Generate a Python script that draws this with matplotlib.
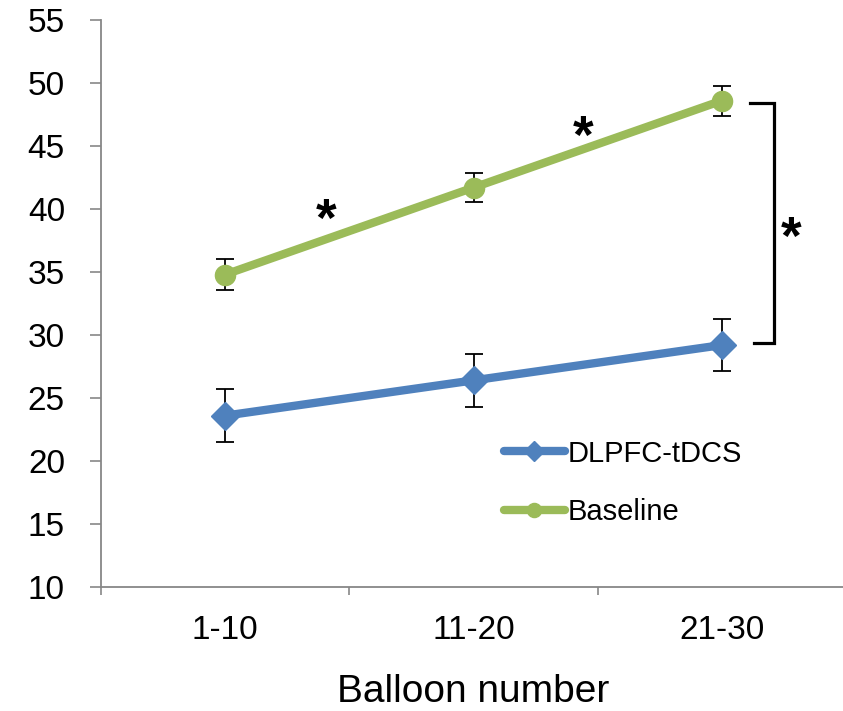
import matplotlib
matplotlib.use("Agg")
import matplotlib.pyplot as plt
import numpy as np

plt.rcParams['font.family'] = ['Liberation Sans', 'DejaVu Sans']

categories = ["1-10", "11-20", "21-30"]
tdcs = [23.6, 26.4, 29.2]
tdcs_err = [2.1, 2.1, 2.05]
baseline = [34.8, 41.7, 48.6]
baseline_err = [1.2, 1.15, 1.2]
yticks = [10, 15, 20, 25, 30, 35, 40, 45, 50, 55]

blue = "#4F81BD"
green = "#9BBB59"
axis_gray = "#878787"

W, H = 843, 711
fig = plt.figure(figsize=(W / 100, H / 100), dpi=100)
ax = fig.add_axes([101 / W, (H - 587) / H, 745 / W, 567 / H])

x = np.arange(len(categories))

ax.errorbar(x, tdcs, yerr=tdcs_err, fmt='none', ecolor='black', elinewidth=1.3,
            capsize=6.2, capthick=1.3, zorder=2)
ax.errorbar(x, baseline, yerr=baseline_err, fmt='none', ecolor='black', elinewidth=1.3,
            capsize=6.2, capthick=1.3, zorder=2)
l1, = ax.plot(x, tdcs, color=blue, lw=6, marker='D', markersize=14, label="DLPFC-tDCS",
              zorder=3, solid_capstyle='round')
l2, = ax.plot(x, baseline, color=green, lw=6, marker='o', markersize=14.5, label="Baseline",
              zorder=3, solid_capstyle='round')

ax.set_xlim(-0.5, 2.5)
ax.set_ylim(10, 55)
ax.set_yticks(yticks)
ax.set_xticks(x)
ax.set_xticklabels(categories)
ax.set_xticks([-0.5, 0.5, 1.5, 2.5], minor=True)
ax.tick_params(axis='x', which='major', length=0, pad=20, labelsize=24)
ax.tick_params(axis='x', which='minor', length=6, width=1.2, color=axis_gray, direction='out')
ax.tick_params(axis='y', length=8, width=1.2, color=axis_gray, pad=18, labelsize=24)

for s in ['top', 'right']:
    ax.spines[s].set_visible(False)
for s in ['left', 'bottom']:
    ax.spines[s].set_color(axis_gray)
    ax.spines[s].set_linewidth(1.3)

ax.set_xlabel("Balloon number", fontsize=28, labelpad=20)

# significance annotations
bx_in, bx_out, bx_in2 = 2.113, 2.21, 2.13
ytop = baseline[2] - 0.2
ybot = tdcs[2] + 0.2
ax.plot([bx_in, bx_out, bx_out, bx_in2], [ytop, ytop, ybot, ybot], color='black', lw=2.3,
        solid_joinstyle='miter', clip_on=False)
ax.text(2.28, 37.55, "*", fontsize=38, fontweight='bold', ha='center', va='center')
ax.text(0.405, 38.95, "*", fontsize=38, fontweight='bold', ha='center', va='center')
ax.text(1.44, 45.55, "*", fontsize=38, fontweight='bold', ha='center', va='center')

leg = fig.legend(handles=[l1, l2], loc='center left', bbox_to_anchor=(489 / W, 1 - 483 / H),
                 frameon=False, fontsize=21, handlelength=2.1, handletextpad=0.1,
                 labelspacing=1.05, borderpad=0, markerscale=0.7)

fig.savefig("out.png", dpi=100)
